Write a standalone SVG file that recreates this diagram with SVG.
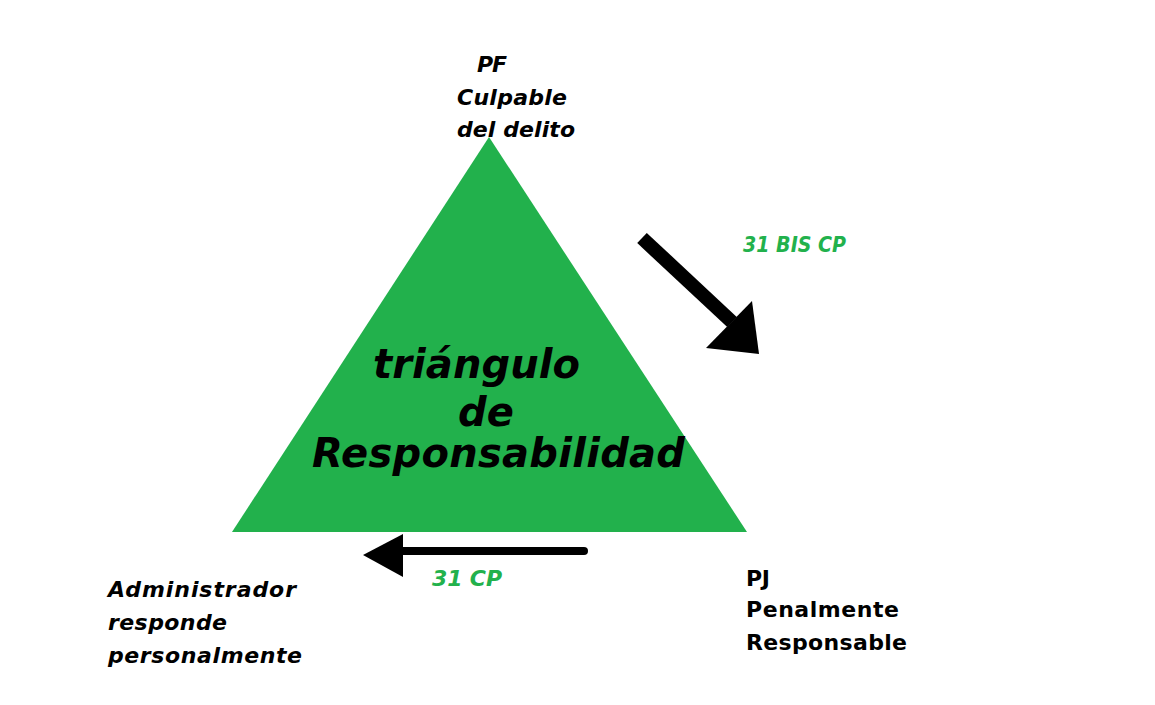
<svg xmlns="http://www.w3.org/2000/svg" width="1155" height="705" viewBox="0 0 1155 705">
<style>
.lbl{font-family:"DejaVu Sans","Liberation Sans",sans-serif;font-weight:bold;fill:#000;font-size:22px}
.it{font-style:italic}
.grn{fill:#22B14C}
.big{font-family:"DejaVu Sans","Liberation Sans",sans-serif;font-weight:bold;font-style:italic;font-size:40px;fill:#000}
</style>
<rect width="1155" height="705" fill="#fff"/>
<g id="triangle">
<polygon points="489,137 232,532 747,532" fill="#22B14C"/>
<text class="big" x="373" y="378" textLength="207">triángulo</text>
<text class="big" x="458" y="426">de</text>
<text class="big" x="312" y="467" textLength="373">Responsabilidad</text>
</g>
<g id="pf">
<text class="lbl it" x="477" y="72" textLength="30">PF</text>
<text class="lbl it" x="457" y="105" textLength="110">Culpable</text>
<text class="lbl it" x="457" y="137" textLength="118">del delito</text>
</g>
<g id="admin">
<text class="lbl it" x="108" y="597" textLength="188">Administrador</text>
<text class="lbl it" x="108" y="630" textLength="119">responde</text>
<text class="lbl it" x="108" y="663" textLength="194">personalmente</text>
</g>
<g id="pj">
<text class="lbl" x="746" y="586" textLength="24">PJ</text>
<text class="lbl" x="746" y="617" textLength="153">Penalmente</text>
<text class="lbl" x="746" y="650" textLength="161">Responsable</text>
</g>
<g id="connectors">
<line x1="642" y1="238" x2="732" y2="322" stroke="#000" stroke-width="14"/>
<polygon points="752,301 759,354 706,348" fill="#000"/>
<line x1="400" y1="551" x2="584" y2="551" stroke="#000" stroke-width="8" stroke-linecap="round"/>
<polygon points="363,555 403,534 403,577" fill="#000"/>
<text class="lbl it grn" x="743" y="252" font-size="20" textLength="103" lengthAdjust="spacingAndGlyphs">31 BIS CP</text>
<text class="lbl it grn" x="432" y="586" textLength="70">31 CP</text>
</g>
</svg>
